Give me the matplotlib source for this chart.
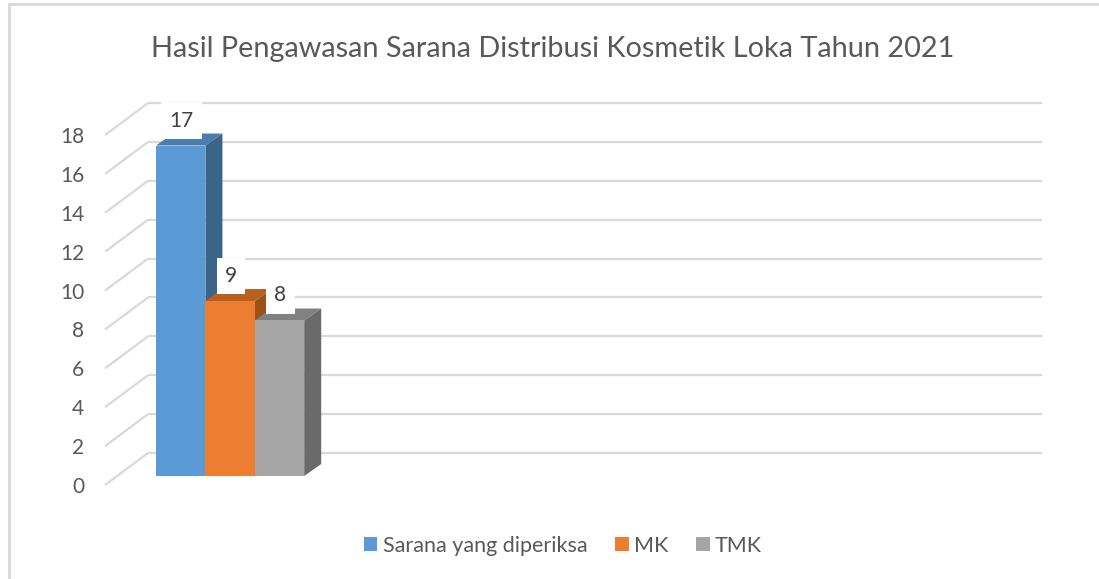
import matplotlib
matplotlib.use("Agg")
import matplotlib.pyplot as plt
from matplotlib.patches import Polygon, Rectangle

plt.rcParams['font.family'] = ['Lato', 'DejaVu Sans']

# data
title = "Hasil Pengawasan Sarana Distribusi Kosmetik Loka Tahun 2021"
series = ["Sarana yang diperiksa", "MK", "TMK"]
values = [17, 9, 8]
y_ticks = [0, 2, 4, 6, 8, 10, 12, 14, 16, 18]

# colours (front, top, side)
front_colors = ["#5b9bd5", "#ed7d31", "#a5a5a5"]
top_colors = ["#4a7db0", "#b9601f", "#818181"]
side_colors = ["#3b6489", "#9c5119", "#6a6a6a"]
grid_color = "#d9d9d9"
text_color = "#595959"

# pixel scale of one data unit (x: one bar width, y: one value unit)
W, H = 1099, 579
PX_X, PX_Y = 49.4, 19.44
X0_PX, Y0_PX = 156, 476  # where the front of the first bar meets zero

fig = plt.figure(figsize=(W / 100, H / 100), dpi=100)
ax = fig.add_axes([0, 0, 1, 1])
ax.set_xlim(-X0_PX / PX_X, (W - X0_PX) / PX_X)
ax.set_ylim(-(H - Y0_PX) / PX_Y, Y0_PX / PX_Y)
ax.axis("off")

# 3d-ish geometry in data units
depth_dx, depth_dy = 17 / PX_X, 12 / PX_Y          # bar depth
wall_x0, wall_x1 = -8 / PX_X, 886 / PX_X           # back wall gridlines
wall_dy = 23 / PX_Y                                # back wall lift
front_x, front_dy = -51 / PX_X, -9 / PX_Y          # front end of floor lines

for v in y_ticks:
    ax.plot([wall_x0, wall_x1], [v + wall_dy, v + wall_dy], color=grid_color, lw=1.6,
            solid_capstyle="butt", zorder=1)
    ax.plot([front_x, wall_x0], [v + front_dy, v + wall_dy], color=grid_color, lw=1.6,
            solid_capstyle="butt", zorder=1)
    ax.text(front_x - 0.42, v + front_dy - 0.1, str(v), ha="right", va="center",
            fontsize=15, color=text_color)

# bars
for i, v in enumerate(values):
    x = i
    side = Polygon([(x + 1, 0), (x + 1 + depth_dx, depth_dy), (x + 1 + depth_dx, v + depth_dy),
                    (x + 1, v)], closed=True, facecolor=side_colors[i], edgecolor="none", zorder=2)
    top = Polygon([(x, v), (x + depth_dx, v + depth_dy), (x + 1 + depth_dx, v + depth_dy),
                   (x + 1, v)], closed=True, facecolor=top_colors[i], edgecolor="none", zorder=2)
    front = Rectangle((x, 0), 1, v, facecolor=front_colors[i], edgecolor="none", zorder=2)
    for p in (side, top, front):
        ax.add_patch(p)
    ax.text(x + 0.52, v + 25 / PX_Y, str(v), ha="center", va="center", fontsize=15,
            color="#404040", zorder=3,
            bbox=dict(boxstyle="square,pad=0.4", facecolor="white", edgecolor="none"))

# title
fig.text(553 / W, 1 - 49 / H, title, ha="center", va="center", fontsize=20.8, color=text_color)

# legend
handles = [Rectangle((0, 0), 1, 1, facecolor=c, edgecolor="none") for c in front_colors]
fig.legend(handles, series, loc="center", bbox_to_anchor=(563 / W, 1 - 546 / H), ncol=3,
           frameon=False, fontsize=15.5, handlelength=0.62, handleheight=0.62,
           handletextpad=0.25, columnspacing=1.3, labelcolor=text_color)

# chart border
fig.patches.append(Rectangle((9 / W, -0.1), 1.2, 1 - 4 / H + 0.1, transform=fig.transFigure,
                             facecolor="none", edgecolor=grid_color, lw=2, zorder=0))

fig.savefig("out.png", dpi=100, facecolor="white")
